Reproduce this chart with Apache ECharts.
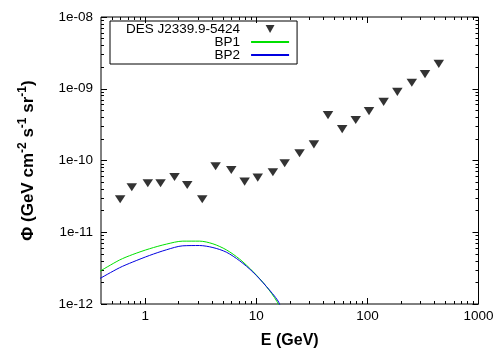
<!DOCTYPE html>
<html>
<head>
<meta charset="utf-8">
<script src="https://cdn.jsdelivr.net/npm/echarts@6/dist/echarts.min.js"></script>
<style>
  html, body { margin: 0; padding: 0; background: #ffffff; }
  #chart { width: 500px; height: 350px; }
</style>
</head>
<body>
<div id="chart"></div>
<script>
// measured points (GeV, GeV cm^-2 s^-1 sr^-1)
const desEnergy = [0.595, 0.757, 1.055, 1.374, 1.836, 2.39, 3.26, 4.30, 5.95, 7.85, 10.3, 14.1,
  18.0, 24.5, 33.0, 44.2, 59.3, 78.5, 103.4, 140, 186, 251, 330, 439];
const desFlux = [2.88e-11, 4.24e-11, 4.82e-11, 4.82e-11, 5.90e-11, 4.56e-11, 2.88e-11, 8.30e-11,
  7.38e-11, 5.07e-11, 5.77e-11, 6.86e-11, 9.14e-11, 1.26e-10, 1.68e-10, 4.29e-10, 2.74e-10,
  3.66e-10, 4.88e-10, 6.57e-10, 9.06e-10, 1.21e-09, 1.60e-09, 2.22e-09];

// model curves
const bp1Energy = [0.388, 0.587, 0.773, 1.09, 1.55, 2.18, 3.08, 4.07, 5.37, 7.08, 9.32, 12.3, 15.3, 17];
const bp1Flux = [2.84e-12, 4.1e-12, 4.9e-12, 5.88e-12, 6.83e-12, 7.52e-12, 7.52e-12, 6.90e-12,
  5.69e-12, 4.22e-12, 2.84e-12, 1.76e-12, 1.09e-12, 7.5e-13];
const bp2Energy = [0.388, 0.587, 0.773, 1.09, 1.55, 2.18, 3.08, 4.07, 5.37, 7.08, 9.32, 12.3, 15.7, 17];
const bp2Flux = [2.25e-12, 3.2e-12, 3.85e-12, 4.74e-12, 5.69e-12, 6.47e-12, 6.53e-12, 6.12e-12,
  5.28e-12, 4.00e-12, 2.79e-12, 1.76e-12, 1.1e-12, 8e-13];

const xTicks = [1, 10, 100, 1000];
const yTicks = [1e-12, 1e-11, 1e-10, 1e-9, 1e-8];
const xRange = [0.4, 1000];
const yRange = [1e-12, 1e-8];

const lg = Math.log10;
const pairs = (xs, ys) => xs.map((x, i) => [lg(x), lg(ys[i])]);

function minorTicks(lo, hi) {
  const out = [];
  for (let n = Math.floor(lg(lo)); n < Math.ceil(lg(hi)); n++) {
    for (let k = 2; k <= 9; k++) {
      const v = k * Math.pow(10, n);
      if (v > lo && v < hi) out.push(lg(v));
    }
  }
  return out;
}

const font = "'Liberation Sans', Arial, sans-serif";
const gridBox = { left: 101, right: 21.5, top: 17, bottom: 46, containLabel: false, outerBoundsMode: 'none' };

function makeAxis(range, gridIndex, position, ticks, len, extra) {
  return Object.assign({
    type: 'value', gridIndex, position,
    min: lg(range[0]), max: lg(range[1]),
    axisLine: { show: false, onZero: false },
    axisTick: { show: true, inside: true, length: len, customValues: ticks,
      lineStyle: { color: '#000', width: 1 } },
    axisLabel: { show: false },
    splitLine: { show: false }
  }, extra || {});
}

const xMajor = xTicks.map(lg);
const yMajor = yTicks.map(lg);
const xMinor = minorTicks(xRange[0], xRange[1]);
const yMinor = minorTicks(yRange[0], yRange[1]);

const chart = echarts.init(document.getElementById('chart'), null, { renderer: 'canvas' });
chart.setOption({
  animation: false,
  backgroundColor: '#ffffff',
  grid: [
    Object.assign({ show: true, borderColor: '#000', borderWidth: 1 }, gridBox),
    Object.assign({ show: false }, gridBox)
  ],
  legend: {
    orient: 'vertical',
    left: 110,
    top: 21,
    align: 'right',
    itemWidth: 38,
    itemHeight: 8,
    itemGap: -1,
    padding: [1, 7, 2, 16],
    borderColor: '#000',
    borderWidth: 1,
    selectedMode: false,
    textStyle: { fontFamily: font, fontSize: 13.5, lineHeight: 12.5, color: '#000', padding: [0, 6, 0, 0] },
    data: [
      'DES J2339.9-5424',
      { name: 'BP1', itemStyle: { opacity: 0 } },
      { name: 'BP2', itemStyle: { opacity: 0 } }
    ]
  },
  xAxis: [
    makeAxis(xRange, 0, 'bottom', xMajor, 6, {
      name: 'E (GeV)',
      nameLocation: 'middle',
      nameGap: 29,
      nameTextStyle: { fontFamily: font, fontSize: 16, fontWeight: 'bold', color: '#000' },
      axisLabel: {
        show: true, customValues: xMajor, margin: 5,
        fontFamily: font, fontSize: 13.5, color: '#000',
        formatter: v => String(Math.round(Math.pow(10, v)))
      }
    }),
    makeAxis(xRange, 0, 'top', xMajor, 6),
    makeAxis(xRange, 1, 'bottom', xMinor, 3),
    makeAxis(xRange, 1, 'top', xMinor, 3)
  ],
  yAxis: [
    makeAxis(yRange, 0, 'left', yMajor, 6, {
      name: '{b|Φ (GeV cm}{s|-2}{b| s}{s|-1}{b| sr}{s|-1}{b|)}',
      nameLocation: 'middle',
      nameGap: 62,
      nameTextStyle: {
        fontFamily: font, fontSize: 17, fontWeight: 'bold', color: '#000',
        rich: {
          b: { fontFamily: font, fontSize: 17, fontWeight: 'bold', color: '#000', lineHeight: 22 },
          s: { fontFamily: font, fontSize: 12, fontWeight: 'bold', color: '#000', verticalAlign: 'top', lineHeight: 12 }
        }
      },
      axisLabel: {
        show: true, customValues: yMajor, margin: 8,
        fontFamily: font, fontSize: 13.5, color: '#000',
        formatter: v => '1e-' + String(Math.round(-v)).padStart(2, '0')
      }
    }),
    makeAxis(yRange, 0, 'right', yMajor, 6),
    makeAxis(yRange, 1, 'left', yMinor, 3),
    makeAxis(yRange, 1, 'right', yMinor, 3)
  ],
  series: [
    {
      name: 'DES J2339.9-5424',
      type: 'scatter',
      xAxisIndex: 0, yAxisIndex: 0,
      symbol: 'path://M0,0L10,0L5,9Z',
      symbolSize: [10.5, 9],
      symbolKeepAspect: true,
      itemStyle: { color: '#000' },
      data: pairs(desEnergy, desFlux)
    },
    {
      name: 'BP1',
      type: 'line',
      xAxisIndex: 0, yAxisIndex: 0,
      symbol: 'none',
      smooth: 0.3,
      clip: true,
      lineStyle: { color: '#00e000', width: 1 },
      itemStyle: { color: '#00e000' },
      data: pairs(bp1Energy, bp1Flux)
    },
    {
      name: 'BP2',
      type: 'line',
      xAxisIndex: 0, yAxisIndex: 0,
      symbol: 'none',
      smooth: 0.3,
      clip: true,
      lineStyle: { color: '#0000e0', width: 1 },
      itemStyle: { color: '#0000e0' },
      data: pairs(bp2Energy, bp2Flux)
    }
  ]
});
</script>
</body>
</html>
